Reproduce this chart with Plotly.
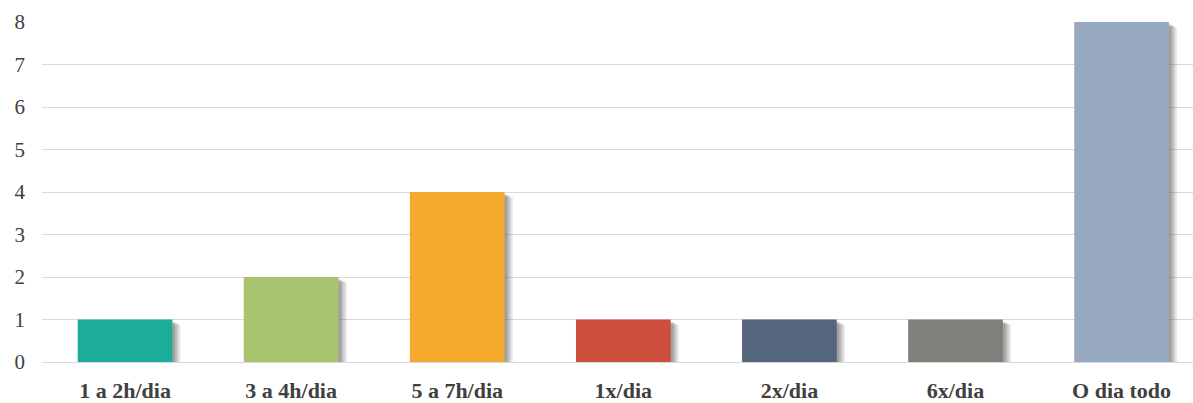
import plotly.graph_objects as go

categories = ["1 a 2h/dia", "3 a 4h/dia", "5 a 7h/dia", "1x/dia", "2x/dia", "6x/dia", "O dia todo"]
values = [1, 2, 4, 1, 1, 1, 8]
colors = ["#1BAD97", "#A9C46F", "#F5AA2F", "#CD4E3C", "#55657D", "#7F807B", "#97A9BF"]

BAR_W = 0.57
fig = go.Figure()

# soft drop shadow layers
for dx, dy, op in [(0.050, 0.10, 0.14), (0.039, 0.07, 0.20), (0.027, 0.05, 0.26), (0.015, 0.03, 0.30)]:
    fig.add_trace(go.Bar(
        x=categories, y=[v - dy for v in values], base=[-0.03] * len(values),
        width=BAR_W, offset=-BAR_W / 2 + dx,
        marker=dict(color=f"rgba(110,110,110,{op})", line=dict(width=0)),
        hoverinfo="skip", showlegend=False,
    ))

fig.add_trace(go.Bar(
    x=categories, y=values, width=BAR_W, offset=-BAR_W / 2,
    marker=dict(color=colors, line=dict(width=0)),
    showlegend=False,
))

fig.update_layout(
    width=1193, height=403,
    margin=dict(l=42, r=0, t=22, b=41),
    barmode="overlay",
    plot_bgcolor="white", paper_bgcolor="white",
    font=dict(family="Liberation Serif", color="#404040", size=21),
    xaxis=dict(showgrid=False, showline=False, ticks="", ticklabelstandoff=13,
               automargin=False, range=[-0.5, 6.43],
               tickfont=dict(family="Liberation Serif", size=22, color="#404040", weight="bold")),
    yaxis=dict(range=[0, 8], dtick=1, showgrid=True, gridcolor="#D9D9D9", gridwidth=1,
               zeroline=True, zerolinecolor="#D9D9D9", zerolinewidth=1,
               showline=False, ticks="", ticklabelstandoff=16, automargin=False,
               tickfont=dict(family="Liberation Serif", size=21, color="#404040")),
)

fig.write_html("out.html")
